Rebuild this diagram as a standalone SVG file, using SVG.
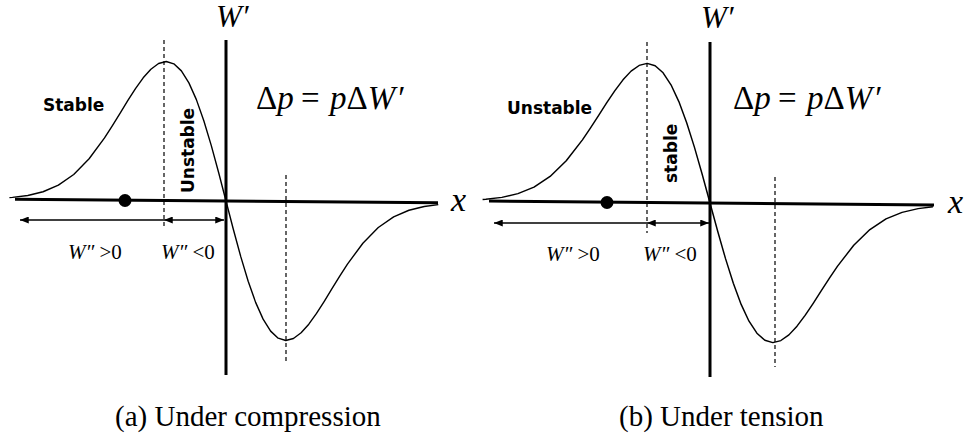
<svg xmlns="http://www.w3.org/2000/svg" xmlns:xlink="http://www.w3.org/1999/xlink" width="972" height="440" viewBox="0 0 972 440">
  <style>
    .axis { stroke: #000; stroke-width: 3; fill: none; }
    .curve { stroke: #000; stroke-width: 1.4; fill: none; stroke-linejoin: round; vector-effect: non-scaling-stroke; }
    .dash { stroke: #000; stroke-width: 1.2; stroke-dasharray: 4 3; fill: none; }
    .arr { stroke: #000; stroke-width: 1.6; fill: none; }
    .serif { font-family: "Liberation Serif", "Times New Roman", serif; fill: #000; }
    .it { font-style: italic; }
    .eq { font-size: 33px; }
    .lbl { font-family: "DejaVu Sans", Verdana, sans-serif; font-weight: bold; font-size: 17px; fill: #000; }
  </style>
  <defs>
    <marker id="ah" viewBox="0 0 10 8" refX="10" refY="4" markerWidth="9" markerHeight="7" markerUnits="userSpaceOnUse" orient="auto-start-reverse">
      <path d="M0,0 L10,4 L0,8 Z" fill="#000"/>
    </marker>
    <path id="wave" d="M -216.6 -1.5 L -213.5 -1.75 L -198.25 -3.79 L -183 -7.64 L -167.75 -14.37 L -152.5 -25.17 L -137.25 -41.02 L -122 -62.04 L -114.38 -74.09 L -106.75 -86.75 L -99.13 -99.44 L -91.5 -111.62 L -83.88 -122.44 L -76.25 -131.15 L -68.63 -136.93 L -61 -139 L -53.38 -136.74 L -45.75 -129.73 L -38.13 -117.82 L -30.5 -101.12 L -22.88 -80.1 L -15.25 -55.53 L -7.63 -28.42 L 0 0 L 7.63 28.42 L 15.25 55.53 L 22.88 80.1 L 30.5 101.12 L 38.13 117.82 L 45.75 129.73 L 53.38 136.74 L 61 139 L 68.63 136.93 L 76.25 131.15 L 83.88 122.44 L 91.5 111.62 L 99.13 99.44 L 106.75 86.75 L 114.38 74.09 L 122 62.04 L 137.25 41.02 L 152.5 25.17 L 167.75 14.37 L 183 7.64 L 198.25 3.79 L 212.3 1.8"/>
  </defs>
  <rect width="972" height="440" fill="#fff"/>

  <!-- Panel (a) -->
  <g id="panel-a">
    <line class="dash" x1="164" y1="40" x2="164" y2="228"/>
    <line class="dash" x1="286" y1="175" x2="286" y2="363"/>
    <g transform="translate(226,201) rotate(0.5)">
      <use xlink:href="#wave" class="curve"/>
      <line class="axis" x1="-211" y1="0" x2="212" y2="0"/>
    </g>
    <line class="axis" x1="226" y1="40" x2="226" y2="375"/>
    <circle cx="125" cy="200.5" r="6.5" fill="#000"/>
    <g id="arrows-a">
      <line class="arr" x1="20" y1="220" x2="164" y2="220" marker-start="url(#ah)"/>
      <line class="arr" x1="164" y1="220" x2="224" y2="220" marker-start="url(#ah)" marker-end="url(#ah)"/>
    </g>
    <text class="serif it" x="216" y="27" font-size="31">W′</text>
    <text class="serif it" x="451" y="211" font-size="34">x</text>
    <text class="serif eq" x="256" y="109">Δ<tspan class="it">p</tspan></text>
    <text class="serif eq" x="301" y="109">=</text>
    <text class="serif eq" x="330" y="109"><tspan class="it">p</tspan>Δ<tspan class="it">W</tspan><tspan dx="3">′</tspan></text>
    <text class="serif it" x="68" y="259" font-size="21">W″ <tspan font-style="normal">&gt;0</tspan></text>
    <text class="serif it" x="161" y="259" font-size="21">W″ <tspan font-style="normal">&lt;0</tspan></text>
    <text class="lbl" x="43" y="111">Stable</text>
    <text class="lbl" transform="translate(194,193) rotate(-90)">Unstable</text>
    <text class="serif" x="115" y="426" font-size="29">(a) Under compression</text>
  </g>

  <!-- Panel (b) -->
  <g id="panel-b">
    <line class="dash" x1="647" y1="42" x2="647" y2="233"/>
    <line class="dash" x1="775" y1="177" x2="775" y2="367"/>
    <g transform="translate(710,203) rotate(0.5)">
      <use xlink:href="#wave" class="curve" transform="scale(1.05,1)"/>
      <line class="axis" x1="-221" y1="0" x2="224" y2="0"/>
    </g>
    <line class="axis" x1="710" y1="42" x2="710" y2="377"/>
    <circle cx="607" cy="202.5" r="6.5" fill="#000"/>
    <g id="arrows-b">
      <line class="arr" x1="494" y1="223" x2="647" y2="223" marker-start="url(#ah)"/>
      <line class="arr" x1="647" y1="223" x2="709" y2="223" marker-start="url(#ah)" marker-end="url(#ah)"/>
    </g>
    <text class="serif it" x="701" y="28" font-size="31">W′</text>
    <text class="serif it" x="948" y="213" font-size="34">x</text>
    <text class="serif eq" x="733" y="109">Δ<tspan class="it">p</tspan></text>
    <text class="serif eq" x="778" y="109">=</text>
    <text class="serif eq" x="807" y="109"><tspan class="it">p</tspan>Δ<tspan class="it">W</tspan><tspan dx="3">′</tspan></text>
    <text class="serif it" x="546" y="261" font-size="21">W″ <tspan font-style="normal">&gt;0</tspan></text>
    <text class="serif it" x="643" y="261" font-size="21">W″ <tspan font-style="normal">&lt;0</tspan></text>
    <text class="lbl" x="507" y="114">Unstable</text>
    <text class="lbl" transform="translate(677,183) rotate(-90)">stable</text>
    <text class="serif" x="619" y="426" font-size="29">(b) Under tension</text>
  </g>
</svg>
